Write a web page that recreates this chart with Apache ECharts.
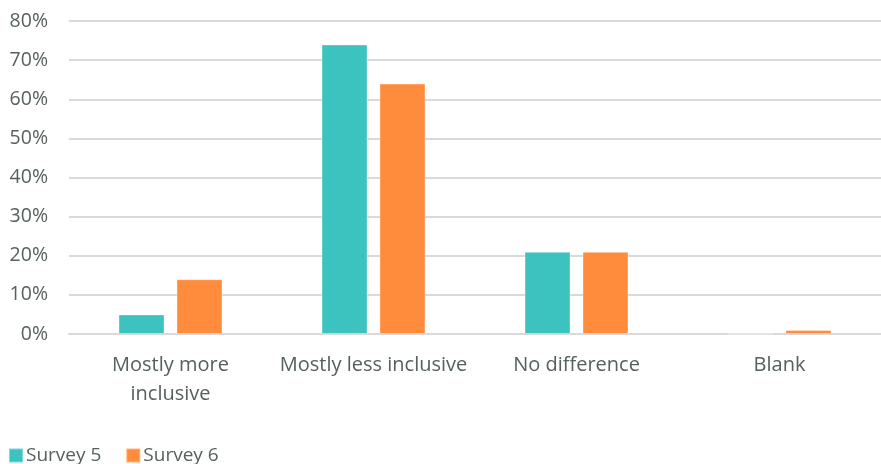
<!DOCTYPE html>
<html>
<head>
<meta charset="utf-8">
<style>
  html, body { margin: 0; padding: 0; background: #ffffff; }
  #chart { width: 881px; height: 464px; }
</style>
<script src="https://cdn.jsdelivr.net/npm/echarts@6/dist/echarts.min.js"></script>
</head>
<body>
<div id="chart"></div>
<script>
// Answer categories and share of respondents (%) per survey
const categories = ['Mostly more\ninclusive', 'Mostly less inclusive', 'No difference', 'Blank'];
const survey5 = [5, 74, 21, 0];
const survey6 = [14, 64, 21, 1];
const yTicks = { min: 0, max: 80, interval: 10 };

const textColor = '#56605f';
const fontFamily = '"Open Sans", "Noto Sans", sans-serif';

const chart = echarts.init(document.getElementById('chart'), null, { renderer: 'canvas' });

chart.setOption({
  animation: false,
  textStyle: { fontFamily: fontFamily, color: textColor },
  grid: { left: 69, top: 21, width: 820, height: 313, containLabel: false },
  legend: {
    left: 3,
    top: 441,
    itemWidth: 14,
    itemHeight: 14,
    itemGap: 24,
    icon: 'rect',
    textStyle: { fontSize: 19, color: textColor, fontFamily: fontFamily, padding: [0, 0, 0, -2] },
    data: ['Survey 5', 'Survey 6']
  },
  xAxis: {
    type: 'category',
    data: categories,
    axisLine: { show: true, lineStyle: { color: '#d9d9d9', width: 2 } },
    axisTick: { show: false },
    axisLabel: {
      fontSize: 20,
      color: textColor,
      margin: 17,
      lineHeight: 29,
      interval: 0
    }
  },
  yAxis: {
    type: 'value',
    min: yTicks.min,
    max: yTicks.max,
    interval: yTicks.interval,
    axisLine: { show: false },
    axisTick: { show: false },
    splitLine: { lineStyle: { color: '#d9d9d9', width: 2 } },
    axisLabel: {
      fontSize: 19.5,
      color: textColor,
      margin: 21,
      formatter: '{value}%'
    }
  },
  series: [
    {
      name: 'Survey 5',
      type: 'bar',
      data: survey5,
      barWidth: 46,
      barGap: '26%',
      itemStyle: { color: '#3cc3c0', borderColor: 'rgba(255,255,255,0.35)', borderWidth: 1 }
    },
    {
      name: 'Survey 6',
      type: 'bar',
      data: survey6,
      barWidth: 46,
      barGap: '26%',
      itemStyle: { color: '#ff8c3d', borderColor: 'rgba(255,255,255,0.35)', borderWidth: 1 }
    }
  ]
});
</script>
</body>
</html>
